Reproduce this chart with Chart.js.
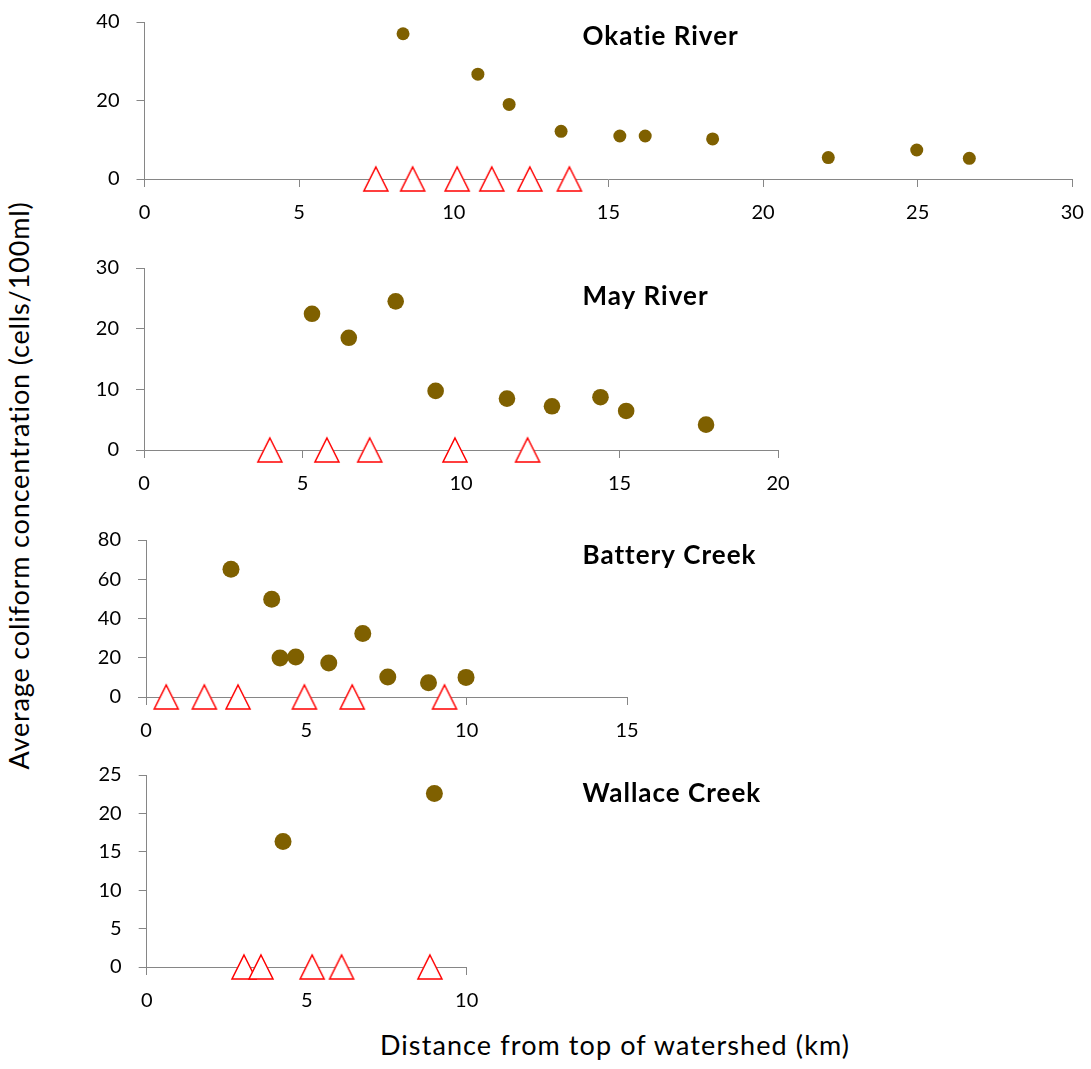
<!DOCTYPE html>
<html>
<head>
<meta charset="utf-8">
<script src="https://cdn.jsdelivr.net/npm/chart.js@4.4.1/dist/chart.umd.min.js"></script>
<style>
  html, body { margin: 0; padding: 0; background: #fff; }
  body { width: 1091px; height: 1069px; position: relative; overflow: hidden; }
  canvas { position: absolute; left: 0; }
  .axis-title {
    position: absolute;
    font-family: Lato, "Open Sans", sans-serif;
    font-size: 27px;
    line-height: 27px;
    color: #000;
    white-space: nowrap;
    text-align: center;
  }
  #xtitle { left: 315px; width: 600px; top: 1031px; letter-spacing: 1.1px; }
  #ytitle { width: 640px; height: 27px; left: -302.5px; top: 471.5px; letter-spacing: 0.85px; transform: rotate(-90deg); }
</style>
</head>
<body>
<div id="ytitle" class="axis-title">Average coliform concentration (cells/100ml)</div>
<div id="xtitle" class="axis-title">Distance from top of watershed (km)</div>
<canvas id="okatie"></canvas>
<canvas id="may"></canvas>
<canvas id="battery"></canvas>
<canvas id="wallace"></canvas>
<script>
// ---- Okatie River ----
const okatieDistance  = [8.36, 10.78, 11.79, 13.47, 15.37, 16.19, 18.37, 22.11, 24.97, 26.67];
const okatieColiform  = [37.0, 26.7, 19.0, 12.15, 10.96, 10.96, 10.2, 5.45, 7.39, 5.27];
const okatieSites     = [7.48, 8.67, 10.11, 11.23, 12.46, 13.74];
const okatieXTicks    = [0, 5, 10, 15, 20, 25, 30];
const okatieYTicks    = [0, 20, 40];

// ---- May River ----
const mayDistance     = [5.30, 6.46, 7.94, 9.20, 11.45, 12.87, 14.40, 15.21, 17.73];
const mayColiform     = [22.45, 18.5, 24.5, 9.74, 8.47, 7.2, 8.7, 6.44, 4.18];
const maySites        = [3.97, 5.77, 7.12, 9.81, 12.10];
const mayXTicks       = [0, 5, 10, 15, 20];
const mayYTicks       = [0, 10, 20, 30];

// ---- Battery Creek ----
const batteryDistance = [2.65, 3.92, 4.18, 4.67, 5.70, 6.76, 7.54, 8.81, 9.98];
const batteryColiform = [65.1, 49.8, 19.9, 20.4, 17.3, 32.4, 10.2, 7.3, 10.0];
const batterySites    = [0.63, 1.82, 2.87, 4.94, 6.43, 9.31];
const batteryXTicks   = [0, 5, 10, 15];
const batteryYTicks   = [0, 20, 40, 60, 80];

// ---- Wallace Creek ----
const wallaceDistance = [4.26, 8.99];
const wallaceColiform = [16.35, 22.6];
const wallaceSites    = [3.04, 3.57, 5.17, 6.09, 8.85];
const wallaceXTicks   = [0, 5, 10];
const wallaceYTicks   = [0, 5, 10, 15, 20, 25];

const DOT_COLOR = '#7F6000';
const SITE_COLOR = '#FF0000';
const AXIS_COLOR = '#868686';
const FONT = 'Lato, "Open Sans", sans-serif';
const PAGE_WIDTH = 1091;

// Open red triangle used for the site markers along the zero line
function siteMarker() {
  const w = 24, h = 24, m = 2;
  const c = document.createElement('canvas');
  c.width = w + 2 * m; c.height = h + 2 * m;
  const g = c.getContext('2d');
  g.beginPath();
  g.moveTo(c.width / 2, m);
  g.lineTo(c.width - m, c.height - m);
  g.lineTo(m, c.height - m);
  g.closePath();
  g.fillStyle = '#ffffff';
  g.fill();
  g.lineWidth = 1.5;
  g.strokeStyle = SITE_COLOR;
  g.lineJoin = 'miter';
  g.stroke();
  return c;
}
const triangle = siteMarker();

// Draws the river name inside each panel
const riverLabel = {
  id: 'riverLabel',
  afterDraw(chart, args, opts) {
    const ctx = chart.ctx;
    ctx.save();
    ctx.font = 'bold 26px ' + FONT;
    if ('letterSpacing' in ctx) ctx.letterSpacing = '1px';
    ctx.fillStyle = '#000';
    ctx.textAlign = 'left';
    ctx.textBaseline = 'alphabetic';
    ctx.fillText(opts.text, opts.x, opts.baseline - opts.offsetTop);
    ctx.restore();
  }
};

function makePanel(id, cfg) {
  const padTop = 18, xAxisH = 50;
  const canvas = document.getElementById(id);
  const areaH = cfg.area.bottom - cfg.area.top;
  const canvasTop = cfg.area.top - padTop;
  canvas.width = PAGE_WIDTH;
  canvas.height = Math.round(padTop + areaH + xAxisH);
  canvas.style.top = canvasTop + 'px';

  const tickFont = { family: FONT, size: 20 };
  const xTicks = cfg.xTicks, yTicks = cfg.yTicks;

  return new Chart(canvas, {
    type: 'scatter',
    data: {
      datasets: [
        {
          label: 'Average coliform',
          data: cfg.distance.map((d, i) => ({ x: d, y: cfg.coliform[i] })),
          pointStyle: 'circle',
          pointRadius: cfg.dotRadius,
          backgroundColor: DOT_COLOR,
          borderColor: DOT_COLOR,
          borderWidth: 0,
          clip: false
        },
        {
          label: 'Sites',
          data: cfg.sites.map(d => ({ x: d, y: 0 })),
          pointStyle: triangle,
          pointRadius: 12,
          clip: false
        }
      ]
    },
    options: {
      responsive: false,
      maintainAspectRatio: false,
      animation: false,
      events: [],
      layout: { padding: { left: 0, top: padTop, right: PAGE_WIDTH - cfg.area.right, bottom: 0 } },
      plugins: {
        legend: { display: false },
        tooltip: { enabled: false },
        riverLabel: { text: cfg.title, x: 582.5, baseline: cfg.titleBaseline, offsetTop: canvasTop }
      },
      scales: {
        x: {
          type: 'linear',
          position: 'bottom',
          min: xTicks[0],
          max: xTicks[xTicks.length - 1],
          afterBuildTicks: s => { s.ticks = xTicks.map(v => ({ value: v })); },
          afterFit: s => { s.height = xAxisH; s.paddingLeft = 0; s.paddingRight = 0; },
          grid: { drawOnChartArea: false, drawTicks: true, tickLength: 8, color: AXIS_COLOR, lineWidth: 1 },
          border: { display: true, color: AXIS_COLOR, width: 1 },
          ticks: { font: tickFont, color: '#000', padding: 14, maxRotation: 0 }
        },
        y: {
          type: 'linear',
          min: yTicks[0],
          max: yTicks[yTicks.length - 1],
          afterBuildTicks: s => { s.ticks = yTicks.map(v => ({ value: v })); },
          afterFit: s => { s.width = cfg.area.left; s.paddingTop = 0; s.paddingBottom = 0; },
          grid: { drawOnChartArea: false, drawTicks: true, tickLength: 8, color: AXIS_COLOR, lineWidth: 1 },
          border: { display: true, color: AXIS_COLOR, width: 1 },
          ticks: { font: tickFont, color: '#000', padding: 17 }
        }
      }
    },
    plugins: [riverLabel]
  });
}

makePanel('okatie', {
  title: 'Okatie River', titleBaseline: 44.5,
  distance: okatieDistance, coliform: okatieColiform, sites: okatieSites,
  xTicks: okatieXTicks, yTicks: okatieYTicks, dotRadius: 6.5,
  area: { left: 144.5, right: 1072.3, top: 21.7, bottom: 178.7 }
});
makePanel('may', {
  title: 'May River', titleBaseline: 305,
  distance: mayDistance, coliform: mayColiform, sites: maySites,
  xTicks: mayXTicks, yTicks: mayYTicks, dotRadius: 8.3,
  area: { left: 144, right: 778, top: 268.3, bottom: 450 }
});
makePanel('battery', {
  title: 'Battery Creek', titleBaseline: 563.5,
  distance: batteryDistance, coliform: batteryColiform, sites: batterySites,
  xTicks: batteryXTicks, yTicks: batteryYTicks, dotRadius: 8.5,
  area: { left: 146, right: 627, top: 540, bottom: 697 }
});
makePanel('wallace', {
  title: 'Wallace Creek', titleBaseline: 802,
  distance: wallaceDistance, coliform: wallaceColiform, sites: wallaceSites,
  xTicks: wallaceXTicks, yTicks: wallaceYTicks, dotRadius: 8.5,
  area: { left: 146.7, right: 466.7, top: 775, bottom: 966.7 }
});
</script>
</body>
</html>
